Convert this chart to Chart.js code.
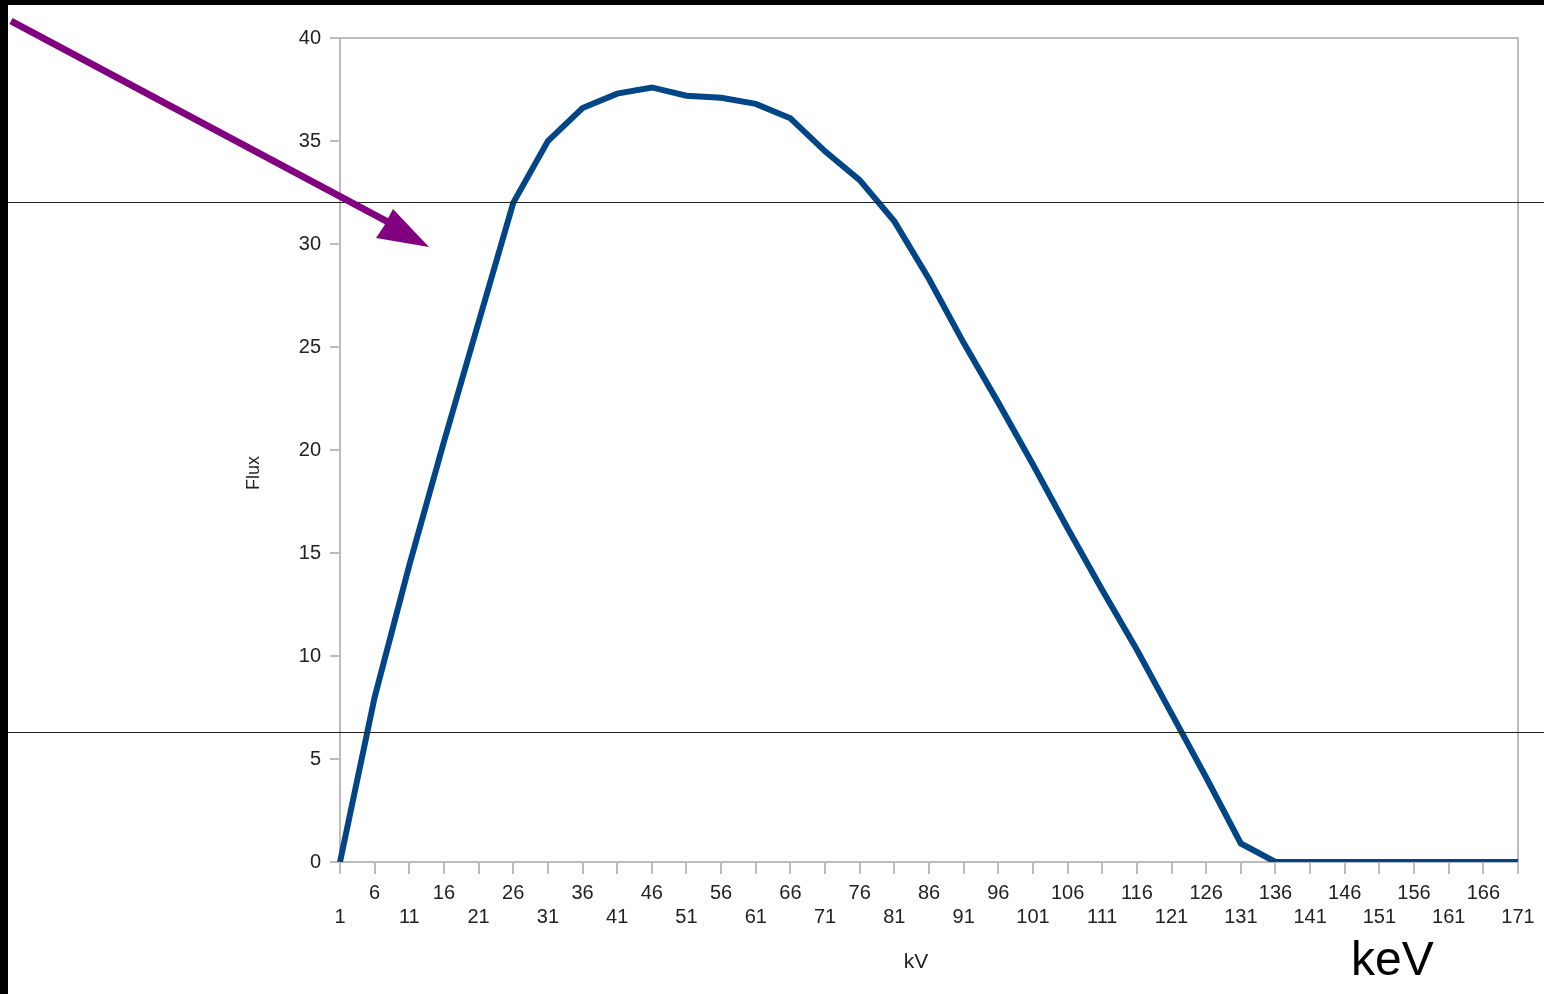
<!DOCTYPE html>
<html>
<head>
<meta charset="utf-8">
<script src="https://cdn.jsdelivr.net/npm/chart.js@4.4.1/dist/chart.umd.min.js"></script>
<style>
    html, body { margin: 0; padding: 0; background: #fff; }
    #espectro { display: block; }
</style>
</head>
<body>
<canvas id="espectro" width="1544" height="994"></canvas>
<script>
// Energias (kV) - uma categoria a cada 5 kV
const energias = ['1', '6', '11', '16', '21', '26', '31', '36', '41', '46', '51', '56', '61', '66', '71', '76', '81', '86',
    '91', '96', '101', '106', '111', '116', '121', '126', '131', '136', '141', '146', '151', '156', '161', '166', '171'];

// Fluxo
const fluxo = [0, 8.0, 14.4, 20.4, 26.2, 32.0, 35.0, 36.6, 37.3, 37.6, 37.2, 37.1, 36.8, 36.1, 34.5, 33.1, 31.1, 28.3,
    25.2, 22.3, 19.3, 16.2, 13.2, 10.3, 7.2, 4.1, 0.9, 0, 0, 0, 0, 0, 0, 0, 0];

const tituloX = 'kV';
const tituloY = 'Flux';

const fonte = "'Liberation Sans', Arial, sans-serif";
const cinza = '#bcbcbc';

// moldura (topo e direita), titulos dos eixos e anotacoes por cima do grafico
const anotacoes = {
    id: 'anotacoes',
    beforeDatasetsDraw(chart) {
        const { ctx, chartArea } = chart;
        ctx.save();
        ctx.strokeStyle = cinza;
        ctx.lineWidth = 2;
        ctx.beginPath();
        ctx.moveTo(chartArea.left, chartArea.top);
        ctx.lineTo(chartArea.right, chartArea.top);
        ctx.lineTo(chartArea.right, chartArea.bottom);
        ctx.stroke();

        // titulos dos eixos (um pouco fora do centro, como no original)
        ctx.fillStyle = '#222';
        ctx.textAlign = 'center';
        ctx.textBaseline = 'middle';
        ctx.font = '21px ' + fonte;
        ctx.fillText(tituloX, 916, 962);
        ctx.translate(254, 473);
        ctx.rotate(-Math.PI / 2);
        ctx.font = '18px ' + fonte;
        ctx.fillText(tituloY, 0, 0);
        ctx.restore();
    },
    afterDraw(chart) {
        const ctx = chart.ctx;
        ctx.save();
        // bordas pretas
        ctx.fillStyle = '#000';
        ctx.fillRect(0, 0, 8, 994);
        ctx.fillRect(0, 0, 1544, 5);
        // linhas horizontais
        ctx.strokeStyle = '#222';
        ctx.lineWidth = 1.2;
        [202.5, 732.5].forEach(y => {
            ctx.beginPath();
            ctx.moveTo(8, y);
            ctx.lineTo(1544, y);
            ctx.stroke();
        });
        // seta roxa
        ctx.strokeStyle = '#800080';
        ctx.fillStyle = '#800080';
        ctx.lineWidth = 7;
        ctx.beginPath();
        ctx.moveTo(11, 21);
        ctx.lineTo(388, 222);
        ctx.stroke();
        ctx.beginPath();
        ctx.moveTo(429, 247);
        ctx.lineTo(376, 238);
        ctx.lineTo(384, 226);
        ctx.lineTo(393, 209);
        ctx.closePath();
        ctx.fill();
        // texto keV
        ctx.fillStyle = '#000';
        ctx.font = '48px ' + fonte;
        ctx.textBaseline = 'alphabetic';
        ctx.fillText('keV', 1351, 975);
        ctx.restore();
    }
};

const ctx = document.getElementById('espectro').getContext('2d');
const grafico = new Chart(ctx, {
    type: 'line',
    data: {
        labels: energias,
        datasets: [{
            label: tituloY,
            data: fluxo,
            borderColor: '#004586',
            borderWidth: 6,
            pointRadius: 0,
            tension: 0,
            fill: false
        }]
    },
    options: {
        responsive: false,
        animation: false,
        layout: {
            padding: { left: 240, right: 26, top: 38, bottom: 0 }
        },
        plugins: {
            legend: { display: false },
            tooltip: { enabled: false }
        },
        scales: {
            x: {
                offset: false,
                grid: { display: true, drawOnChartArea: false, drawTicks: true, tickLength: 12, color: cinza, lineWidth: 2 },
                border: { display: true, color: cinza, width: 2 },
                ticks: {
                    autoSkip: false,
                    maxRotation: 0,
                    minRotation: 0,
                    padding: 7,
                    color: '#222',
                    font: { family: fonte, size: 20, lineHeight: 1.2 },
                    callback: function(value, index) {
                        const rotulo = this.getLabelForValue(value);
                        return index % 2 === 0 ? ['', rotulo] : [rotulo, ''];
                    }
                },
                afterFit: function(scale) { scale.height = 132; }
            },
            y: {
                min: 0,
                max: 40,
                ticks: {
                    stepSize: 5,
                    padding: 9,
                    color: '#222',
                    font: { family: fonte, size: 20 }
                },
                grid: { display: true, drawOnChartArea: false, drawTicks: true, tickLength: 10, color: cinza, lineWidth: 2 },
                border: { display: true, color: cinza, width: 2 },
                afterFit: function(scale) { scale.width = 100; }
            }
        }
    },
    plugins: [anotacoes]
});
</script>
</body>
</html>
